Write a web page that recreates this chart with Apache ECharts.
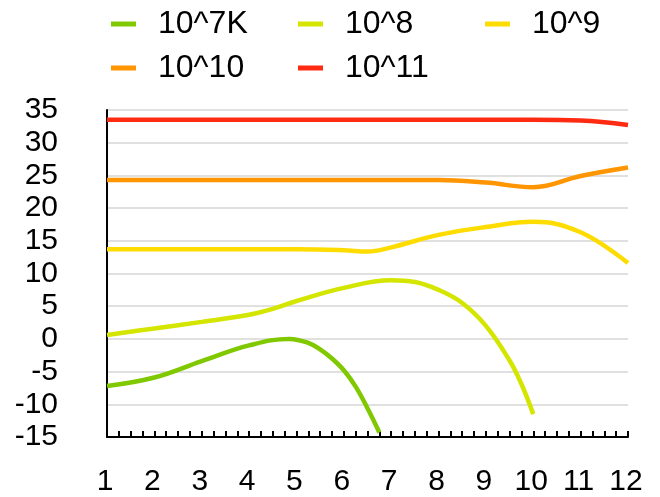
<!DOCTYPE html>
<html>
<head>
<meta charset="utf-8">
<script src="https://cdn.jsdelivr.net/npm/echarts@6/dist/echarts.min.js"></script>
<style>html,body{margin:0;padding:0;background:#fff}#c{width:660px;height:497px}</style>
</head>
<body>
<div id="c"></div>
<script>
const seriesNames = ['10^7K', '10^8', '10^9', '10^10', '10^11'];
const seriesColors = ['#80c800', '#d4e600', '#ffdc00', '#ff9500', '#ff2a12'];
const s7K = [[1, -7.2], [2, -5.9], [3, -3.4], [4, -1.0], [4.85, 0.0], [5.25, -0.6], [5.5, -1.6], [5.75, -3.0], [6, -4.8], [6.25, -7.3], [6.5, -10.6], [6.75, -14.3]];
const s8 = [[1, 0.6], [2, 1.6], [3, 2.6], [4, 3.7], [4.5, 4.6], [5, 5.8], [6, 7.8], [7, 8.95], [7.5, 8.7], [8, 7.5], [8.5, 5.5], [9, 2.0], [9.5, -3.3], [9.75, -6.9], [10, -11.5]];
const s9 = [[1, 13.7], [2, 13.7], [3, 13.7], [4, 13.7], [5, 13.7], [6, 13.55], [6.5, 13.35], [7, 14.0], [8, 15.9], [9, 17.1], [10, 17.9], [11, 16.3], [12, 11.6]];
const s10 = [[1, 24.3], [2, 24.3], [3, 24.3], [4, 24.3], [5, 24.3], [6, 24.3], [7, 24.3], [8, 24.3], [9, 23.9], [10, 23.2], [11, 24.9], [12, 26.2]];
const s11 = [[1, 33.5], [2, 33.5], [3, 33.5], [4, 33.5], [5, 33.5], [6, 33.5], [7, 33.5], [8, 33.5], [9, 33.5], [10, 33.5], [11, 33.4], [12, 32.7]];
const allData = [s7K, s8, s9, s10, s11];

const chart = echarts.init(document.getElementById('c'), null, {renderer: 'canvas'});
const font = '"Liberation Sans", Arial, Helvetica, sans-serif';
chart.setOption({
  animation: false,
  textStyle: {fontFamily: font},
  legend: {
    left: 106, top: 2, width: 570,
    itemWidth: 25, itemHeight: 5, itemGap: 10, icon: 'rect',
    textStyle: {fontSize: 32, color: '#000', fontFamily: font, width: 130, lineHeight: 34, padding: [0, 0, 0, 17]},
    data: seriesNames
  },
  grid: {left: 107, right: 32, top: 110, bottom: 60, outerBoundsMode: 'none'},
  xAxis: {
    type: 'value', min: 1, max: 12, interval: 1,
    axisLine: {show: true, onZero: false, lineStyle: {color: '#000', width: 2}},
    axisTick: {show: true, inside: true, length: 6, lineStyle: {color: '#000', width: 2}},
    minorTick: {show: true, splitNumber: 4, length: 6, lineStyle: {color: '#000', width: 2}},
    splitLine: {show: false},
    axisLabel: {fontSize: 30, color: '#000', margin: 30, fontFamily: font, padding: [0, 4, 0, 0]}
  },
  yAxis: {
    type: 'value', min: -15, max: 35, interval: 5,
    axisLine: {show: true, lineStyle: {color: '#000', width: 2}},
    axisTick: {show: false},
    splitLine: {show: true, lineStyle: {color: '#e0e0e0', width: 2}},
    axisLabel: {fontSize: 30, color: '#000', margin: 49, fontFamily: font, padding: [4, 0, 0, 0]}
  },
  series: seriesNames.map((n, i) => ({
    name: n, type: 'line', data: allData[i], smooth: 0.4, showSymbol: false, symbol: 'none',
    color: seriesColors[i],
    lineStyle: {width: 4.5, color: seriesColors[i]}
  }))
});
</script>
</body>
</html>
